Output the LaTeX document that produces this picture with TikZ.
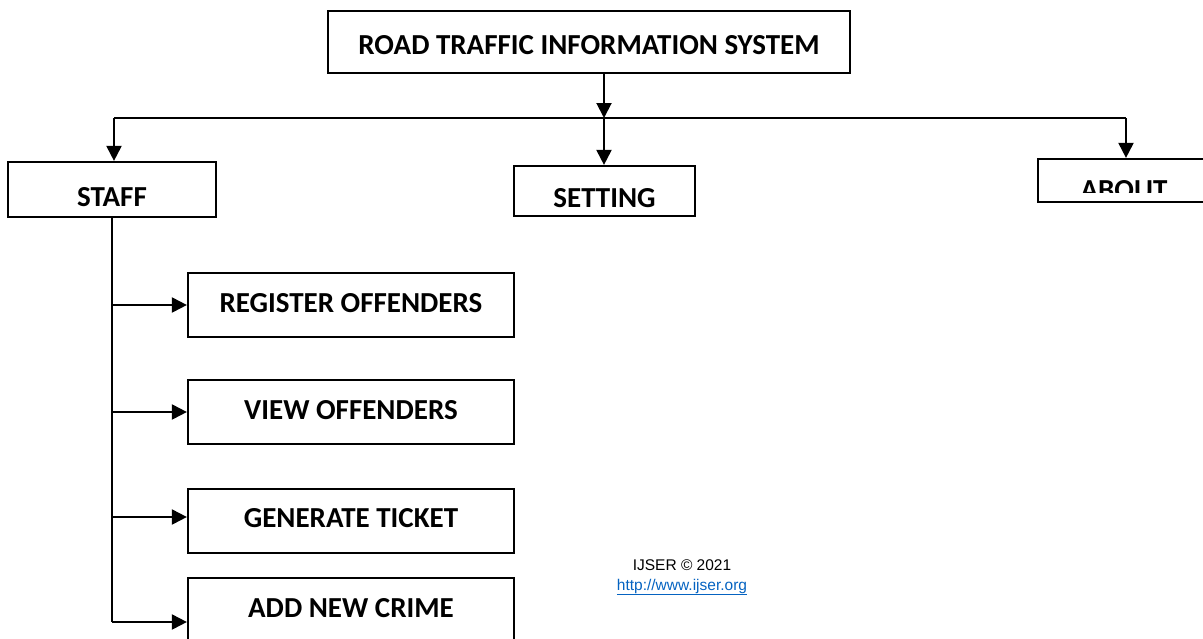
\documentclass[tikz,border=0pt]{standalone}
\usepackage{fontspec}
\setmainfont{Carlito}
\newfontfamily\arialfont{Liberation Sans}
\usetikzlibrary{arrows.meta}
\definecolor{linkblue}{HTML}{0563C1}

\begin{document}
\begin{tikzpicture}[x=1pt,y=-1pt,
  box/.style={draw=black, line width=2.2pt, rectangle, inner sep=0pt, fill=white,
              font=\fontsize{29}{30}\selectfont\bfseries, text depth=0pt},
  arr/.style={line width=2pt, -{Triangle[length=15pt,width=15pt]}},
  link/.style={line width=2pt},
  foot/.style={font=\arialfont\fontsize{15.5}{18}\selectfont, inner sep=0pt}]

\useasboundingbox (0,0) rectangle (1203,638);
\clip (0,0) rectangle (1203,638);

% main menu
\node[box, minimum width=522pt, minimum height=62pt, text height=24.5pt] (top) at (589,42) {ROAD TRAFFIC INFORMATION SYSTEM};

% second level
\node[box, minimum width=208pt, minimum height=55pt, text height=33.5pt] (staff) at (112,189.5) {STAFF};
\node[box, minimum width=181pt, minimum height=50pt, text height=32.5pt] (setting) at (604.5,191) {SETTING};
\node[box, minimum width=172pt, minimum height=43pt] (about) at (1124,180.5) {};
\begin{scope}
  \clip (1038,159) rectangle (1210,192);
  \node[font=\fontsize{29}{30}\selectfont\bfseries, inner sep=0pt, anchor=base] (abouttext) at (1124,199) {ABOUT};
\end{scope}

% staff sub-menu
\node[box, minimum width=326pt, minimum height=64pt, text height=18.5pt, text depth=4pt] (reg) at (351,305) {REGISTER OFFENDERS};
\node[box, minimum width=326pt, minimum height=64pt, text height=18.5pt, text depth=4pt] (view) at (351,412) {VIEW OFFENDERS};
\node[box, minimum width=326pt, minimum height=64pt, text height=18.5pt, text depth=5pt] (gen) at (351,521) {GENERATE TICKET};
\node[box, minimum width=326pt, minimum height=88pt, text height=18.5pt, text depth=28pt] (add) at (351,622) {ADD NEW CRIME};

% connectors
\coordinate (hub) at (604,118);
\coordinate (hl) at (114,118);
\coordinate (hr) at (1126,118);
\draw[arr] (top.south -| hub) -- (hub);
\draw[link] (hl) -- (hr);
\draw[arr] (hl) -- (hl |- staff.north);
\draw[arr] (hub) -- (hub |- setting.north);
\draw[arr] (hr) -- (hr |- about.north);

\draw[link] (staff.south) -- (staff.south |- add.west);
\draw[arr] (reg.west -| staff.south) -- (reg.west);
\draw[arr] (view.west -| staff.south) -- (view.west);
\draw[arr] ([yshift=4pt]gen.west -| staff.south) -- ([yshift=4pt]gen.west);
\draw[arr] (add.west -| staff.south) -- (add.west);

% footer
\node[foot] (ijser) at (682,565) {IJSER © 2021};
\node[foot, text=linkblue] (url) at (682,587) {\underline{http://www.ijser.org}};
\end{tikzpicture}
\end{document}
